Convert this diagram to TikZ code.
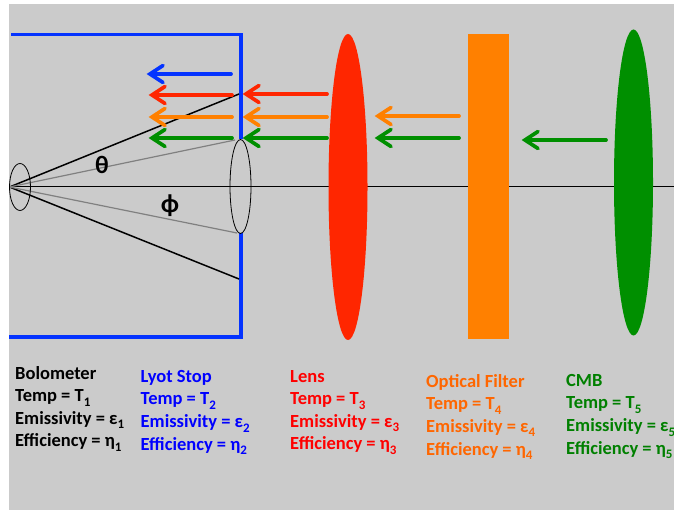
\documentclass[tikz,border=0pt]{standalone}
\usepackage{fontspec}
\setmainfont{Carlito}
\definecolor{panelgray}{RGB}{203,203,203}
\definecolor{stopblue}{RGB}{4,51,255}
\definecolor{lensred}{RGB}{255,38,0}
\definecolor{filterorange}{RGB}{255,128,0}
\definecolor{cmbgreen}{RGB}{0,143,0}
\definecolor{textorange}{RGB}{255,102,0}
\definecolor{textgreen}{RGB}{0,128,0}
\newcommand{\idx}[1]{\raisebox{-0.5ex}{\fontsize{13}{13}\selectfont #1}}
\newcommand{\ray}[4]{%
  \draw[rayline,#1] (#2,#4) -- (#3+4,#4);
  \draw[rayline,#1] (#3+16,#4-8.5) -- (#3+3,#4) -- (#3+16,#4+8.5);}
\tikzset{
  rayline/.style={line width=3.7pt,line cap=round,line join=miter},
  legend/.style={anchor=north west,align=left,inner sep=0pt,font=\fontsize{18.5}{22.6}\selectfont\bfseries},
  aperture/.style={draw=black,line width=0.8pt},
  stopline/.style={draw=stopblue,line width=3.6pt,line join=miter}
}
\begin{document}
\begin{tikzpicture}[x=1pt,y=-1pt]
    \useasboundingbox (0,0) rectangle (674,510);
    \fill[panelgray] (9,4) rectangle (674,510);
    % optical axis
    \draw[line width=1pt] (9,186.5) -- (674,186.5);
    % lyot stop
    \draw[stopline] (11,34.5) -- (241,34.5) -- (241,139);
    \draw[stopline] (241,233) -- (241,337) -- (9,337);
    % beam lines
    \draw[line width=1.5pt] (9.5,187) -- (239,94);
    \draw[line width=1.5pt] (9.5,187) -- (239,279);
    \draw[gray,line width=1.2pt] (9.5,187) -- (235,140);
    \draw[gray,line width=1.2pt] (9.5,187) -- (237,233);
    \draw[aperture] (20,187) ellipse (10.5 and 23.5);
    \draw[aperture] (240.5,186.5) ellipse (10.5 and 47);
    \node[font=\fontsize{25}{25}\selectfont\bfseries] (theta) at (102,165) {θ};
    \node[font=\fontsize{26}{26}\selectfont\bfseries] (phi) at (170,206) {ϕ};
    % elements
    \fill[lensred] (348,187) ellipse (19.5 and 153);
    \fill[filterorange] (467.5,34) rectangle (509,339);
    \fill[cmbgreen] (633.5,182.5) ellipse (19.5 and 153);
    % rays
    \ray{stopblue}{231}{147}{74}
    \foreach \col/\yy in {lensred/95,filterorange/117,cmbgreen/138} {
      \ray{\col}{232}{149}{\yy}
    }
    \foreach \col/\yy in {lensred/94,filterorange/117,cmbgreen/138} {
      \ray{\col}{327}{243}{\yy}
    }
    \ray{filterorange}{459}{375}{116}
    \ray{cmbgreen}{459}{375}{138}
    \ray{cmbgreen}{606}{522}{140}
    % legends
    \node[legend,text=black] (bolometer) at (15,366) {Bolometer\\Temp = T\idx{1}\\Emissivity = ε\idx{1}\\Efficiency = η\idx{1}};
    \node[legend,text=blue] (lyot) at (140.5,370) {Lyot Stop\\Temp = T\idx{2}\\Emissivity = ε\idx{2}\\Efficiency = η\idx{2}};
    \node[legend,text=red] (lens) at (290,370) {Lens\\Temp = T\idx{3}\\Emissivity = ε\idx{3}\\Efficiency = η\idx{3}};
    \node[legend,text=textorange] (filter) at (426,374) {Optical Filter\\Temp = T\idx{4}\\Emissivity = ε\idx{4}\\Efficiency = η\idx{4}};
    \node[legend,text=textgreen] (cmb) at (566,374) {CMB\\Temp = T\idx{5}\\Emissivity = ε\idx{5}\\Efficiency = η\idx{5}};
\end{tikzpicture}
\end{document}
